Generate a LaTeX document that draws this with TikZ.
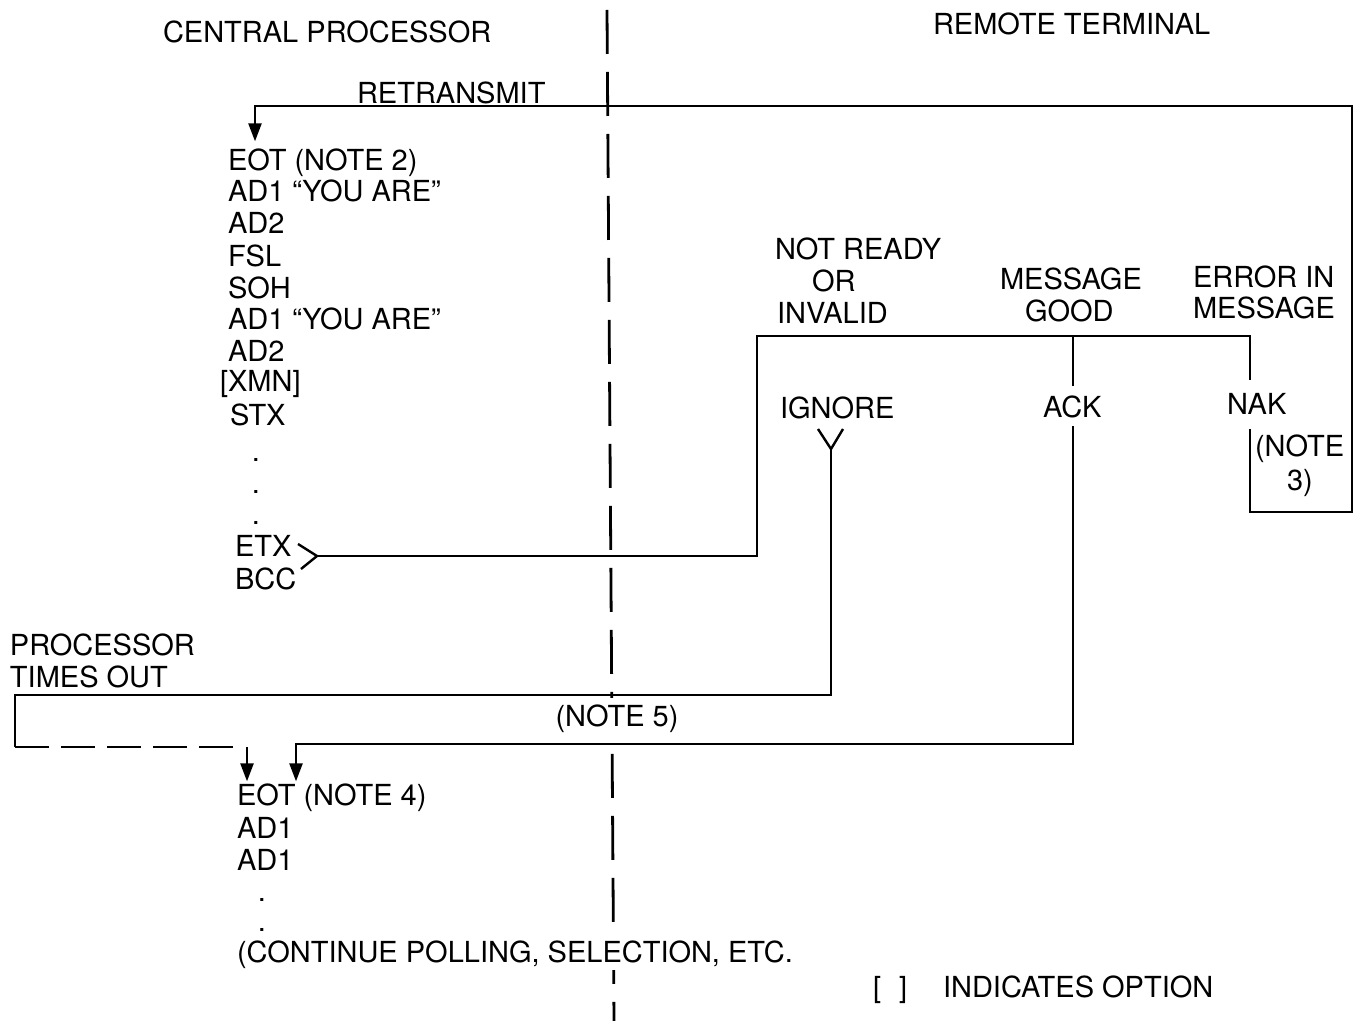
\documentclass[tikz,border=0pt]{standalone}
\usepackage{fontspec}
\setmainfont{TeX Gyre Heros}
\usetikzlibrary{arrows.meta}
\newcommand\lblfont{\fontsize{14.5pt}{17pt}\selectfont}
\tikzset{
  lbl/.style={anchor=base west, inner sep=0pt, outer sep=0pt, font=\lblfont},
  dotlbl/.style={anchor=base, inner sep=0pt, outer sep=0pt, font=\lblfont},
  wire/.style={line width=1.2pt, line join=miter},
  arr/.style={wire, -{Triangle[length=9pt,width=6.5pt]}},
  divider/.style={line width=1.4pt, dash pattern=on 22pt off 9pt},
  tdash/.style={wire, dash pattern=on 17pt off 6pt},
}
\begin{document}
\begin{tikzpicture}[x=0.5pt,y=-0.5pt]
\useasboundingbox (0,0) rectangle (1365,1021);
% divider
\coordinate (divtop) at (607,10);
\coordinate (divbot) at (614,1021);
\draw[divider] (divtop) -- (divbot);
% headings
\node[lbl] (cp) at (163,43) {CENTRAL PROCESSOR};
\node[lbl] (rt) at (933,35) {REMOTE TERMINAL};
\node[lbl] (retx) at (357,104) {RETRANSMIT};
% first column
\node[lbl] (eot1) at (228,171) {EOT (NOTE 2)};
\node[lbl] (ad1a) at (228,202) {AD1 ``YOU ARE''};
\node[lbl] (ad2a) at (228,234) {AD2};
\node[lbl] (fsl) at (228,267) {FSL};
\node[lbl] (soh) at (228,299) {SOH};
\node[lbl] (ad1b) at (228,330) {AD1 ``YOU ARE''};
\node[lbl] (ad2b) at (228,362) {AD2};
\node[lbl] (xmn) at (220,392) {[XMN]};
\node[lbl] (stx) at (230,426) {STX};
\node[dotlbl] (da) at (256,461) {.};
\node[dotlbl] (db) at (256,494) {.};
\node[dotlbl] (dc) at (256,524) {.};
\node[lbl] (etx) at (235,556) {ETX};
\node[lbl] (bcc) at (235,589) {BCC};
% second column
\node[lbl] (eot2) at (237,805) {EOT (NOTE 4)};
\node[lbl] (ad1c) at (237,838) {AD1};
\node[lbl] (ad1d) at (237,870) {AD1};
\node[dotlbl] (dd) at (262,901) {.};
\node[dotlbl] (de) at (262,931) {.};
\node[lbl, fill=white, inner ysep=1pt] (cont) at (237,962) {(CONTINUE POLLING, SELECTION, ETC.};
% timeout
\node[lbl] (proc) at (10,655) {PROCESSOR};
\node[lbl] (tout) at (10,687) {TIMES OUT};
\node[dotlbl, fill=white, inner xsep=2pt, inner ysep=3pt] (note5) at (617,726) {(NOTE 5)};
% remote labels
\node[lbl] (nr) at (775,260) {NOT READY};
\node[lbl] (or) at (812,292) {OR};
\node[lbl] (inv) at (777,324) {INVALID};
\node[lbl] (mg) at (1000,290) {MESSAGE};
\node[lbl] (good) at (1025,322) {GOOD};
\node[lbl] (err) at (1193,288) {ERROR IN};
\node[lbl] (errm) at (1193,319) {MESSAGE};
\node[lbl] (ign) at (780,419) {IGNORE};
\node[lbl] (ack) at (1043,418) {ACK};
\node[lbl] (nak) at (1227,415) {NAK};
\node[lbl] (n3a) at (1255,457) {(NOTE};
\node[lbl] (n3b) at (1287,490) {3)};
\node[lbl] (optb) at (873,997) {[\hspace{9pt}]};
\node[lbl] (optt) at (943,997) {INDICATES OPTION};
% connectors
\coordinate (etxtip) at (317,556);
\draw[wire] (298,544) -- (etxtip) -- (301,569);
\coordinate (nakTop) at (1250,380);
\draw[wire] (etxtip) -- (757,556) -- (757,336) -- (1250,336) -- (nakTop);
\coordinate (ackTop) at (1073,386);
\draw[wire] (1073,336) -- (ackTop);
% NAK -> retransmit
\coordinate (nakBot) at (1250,429);
\coordinate (retcorner) at (255,106);
\draw[arr, shorten >=4pt] (nakBot) -- (1250,512) -- (1352,512) -- (1352,106) -- (retcorner) -- (retcorner |- eot1.north);
% ACK -> EOT (NOTE 4)
\coordinate (ackBot) at (1073,426);
\coordinate (ackcorner) at (296,744);
\draw[arr, shorten >=1pt] (ackBot) -- (1073,744) -- (ackcorner) -- (ackcorner |- eot2.north);
% IGNORE -> timeout
\coordinate (ignTip) at (831,449);
\draw[wire] (818,429) -- (ignTip) -- (843,429);
\coordinate (tocorner) at (15,747);
\draw[wire] (ignTip) -- (831,695) -- (15,695) -- (tocorner);
\coordinate (dashend) at (238,747);
\draw[tdash] (tocorner) -- (dashend);
\coordinate (toarr) at (247,747);
\draw[arr, shorten >=1pt] (toarr) -- (toarr |- eot2.north);
\end{tikzpicture}
\end{document}
